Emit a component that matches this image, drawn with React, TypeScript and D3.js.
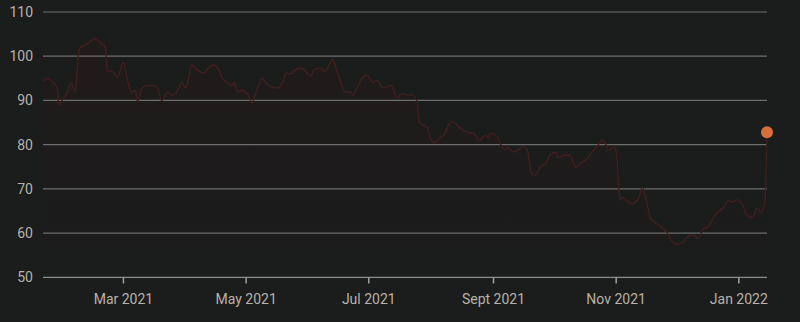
import React from "react";
import * as d3 from "d3";

const dates: string[] = [
  "2021-01-20","2021-01-22","2021-01-25","2021-01-27","2021-01-28","2021-01-30","2021-02-01","2021-02-03","2021-02-05","2021-02-06",
  "2021-02-07","2021-02-10","2021-02-12","2021-02-15","2021-02-17","2021-02-20","2021-02-21","2021-02-24","2021-02-26","2021-03-01",
  "2021-03-03","2021-03-05","2021-03-07","2021-03-08","2021-03-10","2021-03-13","2021-03-16","2021-03-18","2021-03-20","2021-03-23",
  "2021-03-25","2021-03-28","2021-03-30","2021-04-01","2021-04-04","2021-04-07","2021-04-10","2021-04-12","2021-04-15","2021-04-17",
  "2021-04-19","2021-04-22","2021-04-24","2021-04-25","2021-04-27","2021-04-29","2021-05-02","2021-05-04","2021-05-05","2021-05-08",
  "2021-05-09","2021-05-11","2021-05-14","2021-05-17","2021-05-19","2021-05-21","2021-05-23","2021-05-25","2021-05-28","2021-05-30",
  "2021-06-02","2021-06-04","2021-06-07","2021-06-09","2021-06-12","2021-06-13","2021-06-15","2021-06-17","2021-06-19","2021-06-22",
  "2021-06-23","2021-06-25","2021-06-28","2021-06-30","2021-07-02","2021-07-03","2021-07-05","2021-07-08","2021-07-12","2021-07-15",
  "2021-07-18","2021-07-20","2021-07-23","2021-07-25","2021-07-26","2021-07-28","2021-07-30","2021-08-01","2021-08-03","2021-08-05",
  "2021-08-08","2021-08-10","2021-08-12","2021-08-15","2021-08-19","2021-08-22","2021-08-25","2021-08-28","2021-08-29","2021-08-31",
  "2021-09-03","2021-09-05","2021-09-07","2021-09-08","2021-09-11","2021-09-13","2021-09-16","2021-09-18","2021-09-19","2021-09-20",
  "2021-09-22","2021-09-24","2021-09-27","2021-09-29","2021-10-02","2021-10-03","2021-10-06","2021-10-09","2021-10-12","2021-10-14",
  "2021-10-17","2021-10-20","2021-10-23","2021-10-25","2021-10-27","2021-10-28","2021-10-30","2021-10-31","2021-11-01","2021-11-03",
  "2021-11-04","2021-11-07","2021-11-09","2021-11-12","2021-11-14","2021-11-16","2021-11-18","2021-11-20","2021-11-23","2021-11-26",
  "2021-11-29","2021-12-01","2021-12-04","2021-12-06","2021-12-09","2021-12-12","2021-12-14","2021-12-17","2021-12-20","2021-12-24",
  "2021-12-27","2021-12-29","2021-12-31","2022-01-03","2022-01-05","2022-01-08","2022-01-10","2022-01-12","2022-01-13","2022-01-14",
  "2022-01-15"
];

const prices: number[] = [
  94.3,95.0,94.1,92.8,88.9,90.5,91.6,93.9,91.9,96.8,
  101.8,102.5,103.2,104.0,103.2,102.0,96.8,96.4,95.2,98.6,
  94.6,91.9,92.3,89.6,92.7,93.4,93.4,92.7,90.0,91.9,
  91.2,92.3,94.1,92.8,98.0,96.8,96.2,97.3,98.0,97.3,
  95.2,93.9,93.4,94.1,91.9,92.3,91.2,89.4,90.7,94.1,
  95.0,93.9,93.0,92.8,93.9,96.2,96.0,96.8,97.4,97.0,
  95.5,97.0,97.3,96.6,98.6,99.3,96.8,94.3,91.9,91.9,
  91.2,92.8,95.2,95.7,94.6,94.1,94.6,92.8,93.4,90.7,
  91.6,91.2,91.2,89.8,85.1,84.4,83.9,81.0,80.5,81.4,
  82.6,84.8,85.1,83.9,82.8,82.6,81.0,82.1,81.7,82.6,
  81.6,79.6,78.9,79.4,78.3,78.7,79.6,78.5,75.5,73.5,
  73.1,74.9,75.8,77.6,78.3,77.1,77.6,77.6,74.9,75.8,
  76.5,78.3,79.9,81.0,79.9,78.7,79.2,79.4,78.3,67.4,
  68.1,67.0,66.7,67.6,70.4,67.4,63.5,62.5,61.5,60.3,
  58.0,57.5,57.8,58.9,59.6,58.8,60.8,61.6,64.0,65.6,
  67.3,67.0,67.5,66.3,64.1,63.5,65.7,64.5,65.3,67.5,
  82.8
];

const yTicks: number[] = [50, 60, 70, 80, 90, 100, 110];
const xTickDates: string[] = ["2021-03-01", "2021-05-01", "2021-07-01", "2021-09-01", "2021-11-01", "2022-01-01"];
const xTickLabels: string[] = ["Mar 2021", "May 2021", "Jul 2021", "Sept 2021", "Nov 2021", "Jan 2022"];

const W = 800;
const H = 322;
const FONT = "Roboto, 'Noto Sans', sans-serif";

export default function App() {
  const parse = d3.utcParse("%Y-%m-%d");
  const data = dates.map((d, i) => ({ date: parse(d) as Date, value: prices[i] }));

  const x = d3
    .scaleUtc()
    .domain([parse("2021-01-20") as Date, parse("2022-01-15") as Date])
    .range([43, 767]);
  const y = d3.scaleLinear().domain([50, 110]).range([277.3, 12]);

  const line = d3
    .line<{ date: Date; value: number }>()
    .x((d) => x(d.date))
    .y((d) => y(d.value))
    .curve(d3.curveMonotoneX);
  const area = d3
    .area<{ date: Date; value: number }>()
    .x((d) => x(d.date))
    .y0(y(50))
    .y1((d) => y(d.value))
    .curve(d3.curveMonotoneX);

  const last = data[data.length - 1];

  return (
    <div style={{ position: "fixed", left: 0, top: 0, width: W, height: H, background: "#1b1c1c" }}>
      <svg width={W} height={H} style={{ display: "block" }}>
        <defs>
          <linearGradient id="areaGrad" x1="0" y1="0" x2="0" y2="1">
            <stop offset="0%" stopColor="#4a1515" stopOpacity={0.12} />
            <stop offset="100%" stopColor="#4a1515" stopOpacity={0.0} />
          </linearGradient>
        </defs>
        <rect x={0} y={0} width={W} height={H} fill="#1b1c1c" />
        <path d={area(data) || ""} fill="url(#areaGrad)" />
        {yTicks.map((t) => (
          <g key={t}>
            <line
              x1={43}
              x2={767}
              y1={y(t)}
              y2={y(t)}
              stroke={t === 50 ? "#8c8c8c" : "#6e6e6e"}
              strokeWidth={1.2}
            />
            <text
              x={33}
              y={y(t)}
              dy="0.35em"
              textAnchor="end"
              fill="#b8b2aa"
              fontSize={14}
              fontFamily={FONT}
            >
              {t}
            </text>
          </g>
        ))}
        <path d={line(data) || ""} fill="none" stroke="#421e1e" strokeWidth={1.4} />
        {xTickDates.map((d, i) => {
          const px = x(parse(d) as Date);
          return (
            <g key={d}>
              <line x1={px} x2={px} y1={277.3} y2={283.5} stroke="#a0a0a0" strokeWidth={1.5} />
              <text
                x={px}
                y={304}
                textAnchor="middle"
                fill="#b8b2aa"
                fontSize={14}
                fontFamily={FONT}
              >
                {xTickLabels[i]}
              </text>
            </g>
          );
        })}
        <circle cx={x(last.date)} cy={y(last.value)} r={6} fill="#d8703e" />
      </svg>
    </div>
  );
}
